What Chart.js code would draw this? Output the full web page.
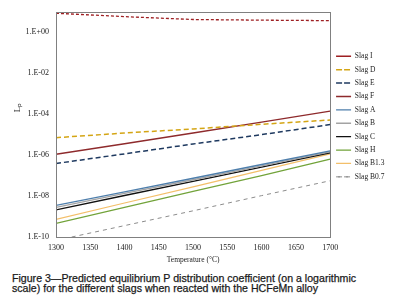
<!DOCTYPE html>
<html>
<head>
<meta charset="utf-8">
<script src="https://cdn.jsdelivr.net/npm/chart.js@4.4.1/dist/chart.umd.min.js"></script>
<style>
  html, body { margin: 0; padding: 0; background: #fff; }
  #wrap { position: relative; width: 402px; height: 265px; }
  #caption { position: absolute; left: 12px; top: 272.5px; font: 10.6px 'Liberation Sans', Arial, sans-serif; line-height: 10.5px; color: #1a1a1a; -webkit-text-stroke: 0.25px #1a1a1a; white-space: nowrap; }
</style>
</head>
<body>
<div id="wrap"><canvas id="chart"></canvas></div>
<div id="caption">Figure 3—Predicted equilibrium P distribution coefficient (on a logarithmic<br>scale) for the different slags when reacted with the HCFeMn alloy</div>
<script>
// temperatures (°C) and Lp values
const temperatures = [1300, 1400, 1500, 1600, 1700];
const slagI   = [8.5, 5.8, 4.2, 3.9, 3.7];
const slagD   = [7.1e-6, 1.2e-5, 1.9e-5, 3.2e-5, 5.2e-5];
const slagE   = [3.9e-7, 1.15e-6, 3.5e-6, 1.0e-5, 3.1e-5];
const slagF   = [1.1e-6, 3.6e-6, 1.2e-5, 4.1e-5, 1.4e-4];
const slagA   = [3.5e-9, 1.6e-8, 7.4e-8, 3.5e-7, 1.6e-6];
const slagB   = [2.8e-9, 1.35e-8, 6.3e-8, 3.0e-7, 1.45e-6];
const slagC   = [2.1e-9, 1.07e-8, 5.2e-8, 2.6e-7, 1.3e-6];
const slagH   = [4.6e-10, 2.8e-9, 1.7e-8, 1.0e-7, 6.3e-7];
const slagB13 = [7.2e-10, 4.6e-9, 2.8e-8, 1.8e-7, 1.15e-6];
const slagB07 = [6.8e-11, 3.6e-10, 1.9e-9, 1.05e-8, 5.6e-8];

const yTickValues = [1e-10, 1e-8, 1e-6, 1e-4, 1e-2, 1];
const yTickLabels = ['1.E-10', '1.E-08', '1.E-06', '1.E-04', '1.E-02', '1.E+00'];

Chart.defaults.font.family = "'Liberation Serif', 'Times New Roman', serif";
Chart.defaults.color = '#222';

function pts(values) {
  return temperatures.map((t, i) => ({ x: t, y: values[i] }));
}

function series(label, values, color, dash, width) {
  return {
    label: label,
    data: pts(values),
    borderColor: color,
    backgroundColor: color,
    borderDash: dash,
    borderWidth: width,
    pointRadius: 0,
    tension: 0,
    fill: false
  };
}

const frame = {
  id: 'frame',
  afterDatasetsDraw(chart) {
    const { ctx, chartArea: a } = chart;
    ctx.save();
    ctx.strokeStyle = '#808080';
    ctx.lineWidth = 1;
    ctx.strokeRect(Math.round(a.left) + 0.5, Math.round(a.top) + 0.5, Math.round(a.width), Math.round(a.height));
    ctx.restore();
  }
};

new Chart(document.getElementById('chart'), {
  type: 'line',
  data: {
    datasets: [
      series('Slag I', slagI, '#9e1f22', [3, 2], 1.3),
      series('Slag D', slagD, '#d4a514', [5, 3], 1.5),
      series('Slag E', slagE, '#1f3a60', [5, 3], 1.5),
      series('Slag F', slagF, '#8e2a2c', [], 1.4),
      series('Slag A', slagA, '#4f7fac', [], 1.4),
      series('Slag B', slagB, '#a3a3a3', [], 1.4),
      series('Slag C', slagC, '#111111', [], 1.4),
      series('Slag H', slagH, '#72a33a', [], 1.3),
      series('Slag B1.3', slagB13, '#f3bf6a', [], 1.2),
      series('Slag B0.7', slagB07, '#8c8c8c', [4, 4], 1)
    ]
  },
  options: {
    responsive: true,
    maintainAspectRatio: false,
    animation: false,
    layout: { padding: { top: 10, right: 7.6, left: 0, bottom: 0 } },
    plugins: {
      legend: {
        position: 'right',
        align: 'start',
        title: { display: true, text: ' ', font: { size: 1 }, padding: { top: 35.4, bottom: 0 } },
        labels: {
          boxWidth: 15,
          boxHeight: 0,
          padding: 5.9,
          font: { size: 7.5 },
          color: '#222'
        }
      },
      tooltip: { enabled: false }
    },
    scales: {
      x: {
        type: 'linear',
        min: 1300,
        max: 1700,
        grid: { display: false, drawTicks: false },
        border: { display: false },
        ticks: { stepSize: 50, padding: 6, font: { size: 8 }, callback: (v) => String(v) },
        title: { display: true, text: 'Temperature (°C)', font: { size: 7.5 }, padding: { top: 0, bottom: 0 } },
        afterFit(scale) { scale.height = 28; }
      },
      y: {
        type: 'logarithmic',
        min: 1e-10,
        max: 10,
        grid: { display: false, drawTicks: false },
        border: { display: false },
        afterBuildTicks(scale) { scale.ticks = yTickValues.map(v => ({ value: v })); },
        ticks: {
          padding: 7,
          font: { size: 8 },
          callback: (v) => yTickLabels[yTickValues.findIndex(t => Math.abs(Math.log10(t) - Math.log10(v)) < 1e-6)]
        },
        title: { display: true, text: '               Lₚ', font: { size: 9 }, padding: { top: 12, bottom: 0 } },
        afterFit(scale) { scale.width = 56; }
      }
    }
  },
  plugins: [frame]
});
</script>
</body>
</html>
